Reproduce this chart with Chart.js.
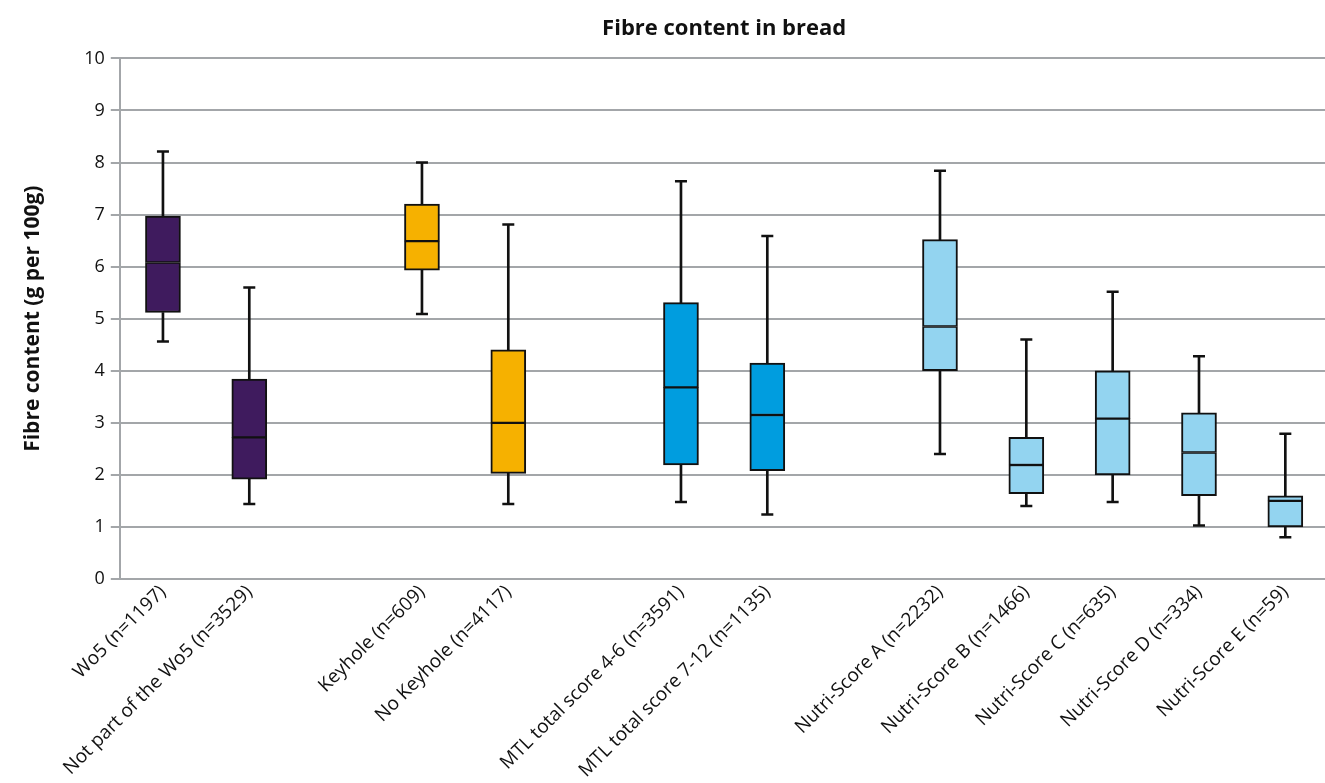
<!DOCTYPE html>
<html>
<head>
<meta charset="utf-8">
<script src="https://cdn.jsdelivr.net/npm/chart.js@4.4.1/dist/chart.umd.min.js"></script>
<style>
  html, body { margin: 0; padding: 0; background: #fff; overflow: hidden; }
  #wrap { width: 1337px; height: 784px; }
</style>
</head>
<body>
<div id="wrap"><canvas id="fibre"></canvas></div>
<script>
// categories ('' = empty slot between groups)
var labels = ['Wo5 (n=1197)', 'Not part of the Wo5 (n=3529)', '',
              'Keyhole (n=609)', 'No Keyhole (n=4117)', '',
              'MTL total score 4-6 (n=3591)', 'MTL total score 7-12 (n=1135)', '',
              'Nutri-Score A (n=2232)', 'Nutri-Score B (n=1466)', 'Nutri-Score C (n=635)',
              'Nutri-Score D (n=334)', 'Nutri-Score E (n=59)'];

// box plot statistics, g per 100g
var minVals = [4.56, 1.44, null, 5.09, 1.44, null, 1.48, 1.24, null, 2.40, 1.40, 1.48, 1.03, 0.80];
var q1Vals  = [5.12, 1.92, null, 5.93, 2.03, null, 2.19, 2.08, null, 4.00, 1.64, 2.00, 1.60, 1.00];
var medVals = [6.08, 2.72, null, 6.49, 3.00, null, 3.68, 3.15, null, 4.85, 2.19, 3.08, 2.43, 1.50];
var q3Vals  = [6.97, 3.84, null, 7.20, 4.40, null, 5.31, 4.15, null, 6.52, 2.72, 4.00, 3.19, 1.60];
var maxVals = [8.21, 5.60, null, 8.00, 6.81, null, 7.64, 6.59, null, 7.84, 4.60, 5.52, 4.28, 2.79];

var yTicks = [0, 1, 2, 3, 4, 5, 6, 7, 8, 9, 10];

var purple = '#3f1b5e', orange = '#f6b100', blue = '#009ddf', light = '#93d4f0';
var boxColors = [purple, purple, null, orange, orange, null, blue, blue, null,
                 light, light, light, light, light];

function pair(a, b) {
  return a.map(function (v, i) { return v == null ? null : [v, b[i]]; });
}

var boxStyle = {
  type: 'bar',
  backgroundColor: boxColors,
  borderColor: '#111',
  borderSkipped: false,
  barThickness: 35,
  grouped: false
};
var whiskerStyle = {
  type: 'bar',
  backgroundColor: '#111',
  borderWidth: 0,
  barThickness: 2,
  grouped: false
};
var capStyle = {
  type: 'line',
  showLine: false,
  pointStyle: 'line',
  pointRadius: 6,
  pointHoverRadius: 6,
  pointBorderWidth: 2.5,
  borderColor: '#111',
  backgroundColor: '#111'
};

Chart.defaults.font.family = '"Open Sans", "Noto Sans", sans-serif';
Chart.defaults.color = '#111';

var ctx = document.getElementById('fibre').getContext('2d');
var chart = new Chart(ctx, {
  data: {
    labels: labels,
    datasets: [
      Object.assign({ label: 'box low', data: pair(q1Vals, medVals), order: 2,
        borderWidth: { top: 1.5, bottom: 2, left: 2, right: 2 } }, boxStyle),
      Object.assign({ label: 'box high', data: pair(medVals, q3Vals), order: 2,
        borderWidth: { top: 2, bottom: 1.5, left: 2, right: 2 } }, boxStyle),
      Object.assign({ label: 'whisker low', data: pair(minVals, q1Vals), order: 3 }, whiskerStyle),
      Object.assign({ label: 'whisker high', data: pair(q3Vals, maxVals), order: 3 }, whiskerStyle),
      Object.assign({ label: 'min', data: minVals, order: 1 }, capStyle),
      Object.assign({ label: 'max', data: maxVals, order: 1 }, capStyle)
    ]
  },
  options: {
    responsive: true,
    maintainAspectRatio: false,
    animation: false,
    layout: { padding: { top: 8, right: 0, bottom: 0, left: 20 } },
    plugins: {
      legend: { display: false },
      tooltip: { enabled: false },
      title: {
        display: true,
        text: 'Fibre content in bread',
        fullSize: false,
        font: { size: 22, weight: 'bold' },
        color: '#111',
        padding: { top: 8, bottom: 16 }
      }
    },
    scales: {
      x: {
        type: 'category',
        offset: true,
        grid: { display: false, drawTicks: false },
        border: { display: false },
        ticks: {
          minRotation: 45,
          maxRotation: 45,
          autoSkip: false,
          padding: 2,
          font: { size: 19 },
          color: '#111'
        }
      },
      y: {
        min: 0,
        max: 10,
        afterBuildTicks: function (axis) {
          axis.ticks = yTicks.map(function (v) { return { value: v }; });
        },
        grid: { color: '#a3a6a9', lineWidth: 2, tickLength: 9 },
        border: { display: true, color: '#a3a6a9', width: 2 },
        ticks: { font: { size: 18 }, color: '#111', padding: 6 },
        title: {
          display: true,
          text: 'Fibre content (g per 100g)',
          font: { size: 21, weight: 'bold' },
          color: '#111',
          padding: { top: 0, bottom: 33 }
        }
      }
    }
  }
});
</script>
</body>
</html>
